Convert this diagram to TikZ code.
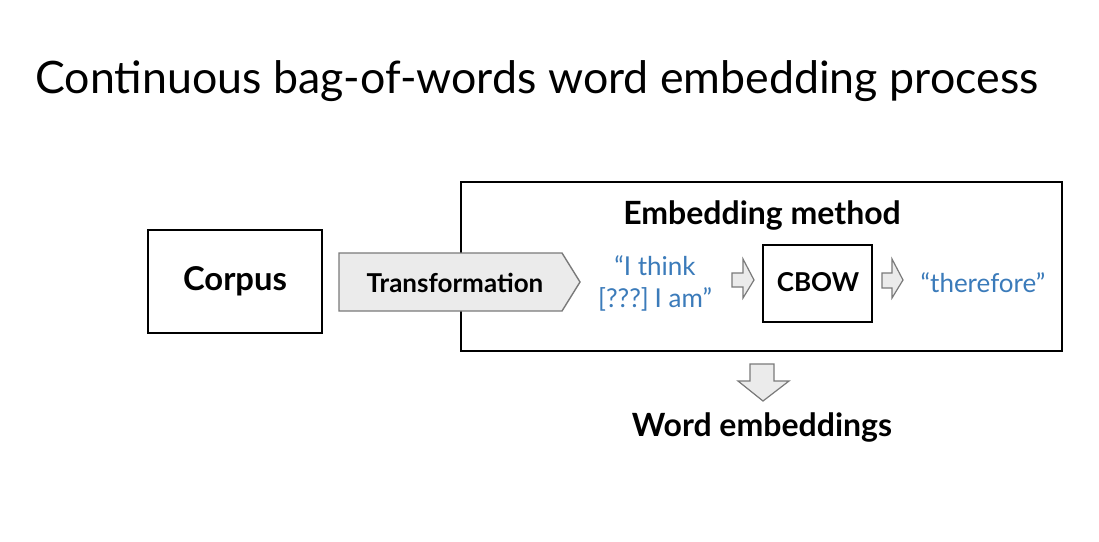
\documentclass[tikz,border=0pt]{standalone}
\usepackage{fontspec}
\setmainfont{Lato}
\usetikzlibrary{shapes.symbols}
\definecolor{quoteblue}{HTML}{3B7BBA}
\definecolor{arrowfill}{HTML}{EBEBEB}
\definecolor{arrowline}{HTML}{7A7A7A}
\tikzset{
  box/.style={draw=black, line width=1.8pt, fill=white, inner sep=0pt},
  boldlabel/.style={font=\bfseries\fontsize{#1}{#1}\selectfont, inner sep=0pt, anchor=base},
  quote/.style={text=quoteblue, font=\fontsize{26}{32}\selectfont, inner sep=0pt, align=center},
  blockarrow/.style={draw=arrowline, fill=arrowfill, line width=1.2pt, line join=miter},
}
\begin{document}
\begin{tikzpicture}[x=1pt,y=-1pt]
\useasboundingbox (0,0) rectangle (1099,541);
\fill[white] (0,0) rectangle (1099,541);
% title
\node[inner sep=0pt, anchor=base west, font=\fontsize{44.7}{46}\selectfont] (title) at (35,93) {Continuous bag-of-words word embedding process};
% corpus
\draw[box] (148,230) rectangle (322,333);
\node[boldlabel=32.8] (corpus) at (235,290) {Corpus};
% embedding method frame
\draw[box] (461,182) rectangle (1062,351);
\node[boldlabel=32] (embed) at (762,224) {Embedding method};
% transformation arrow
\draw[blockarrow, line width=1.4pt] (339,253) -- (562,253) -- (580,282) -- (562,311) -- (339,311) -- cycle;
\node[boldlabel=26] (transf) at (455,292) {Transformation};
% input sentence
\node[quote] (input) at (655,283) {“I think\\{[???]}\hspace{-0.12em} I am”};
% arrow 1
\draw[blockarrow] (732,273) -- (743,273) -- (743,259) -- (754,280) -- (743,298) -- (743,287) -- (732,287) -- cycle;
% CBOW box
\draw[box, line width=1.4pt] (763,245) rectangle (872,322);
\node[boldlabel=26] (cbow) at (818,291) {CBOW};
% arrow 2
\draw[blockarrow] (882,273) -- (892,273) -- (892,259) -- (903,280) -- (892,298) -- (892,288) -- (882,288) -- cycle;
% output
\node[quote, anchor=base] (output) at (983,292) {“therefore”};
% down arrow
\draw[blockarrow] (750,364) -- (774,364) -- (774,381) -- (789,381) -- (763,401) -- (738,381) -- (750,381) -- cycle;
% word embeddings
\node[boldlabel=32] (wordemb) at (762,436) {Word embeddings};
\end{tikzpicture}
\end{document}
